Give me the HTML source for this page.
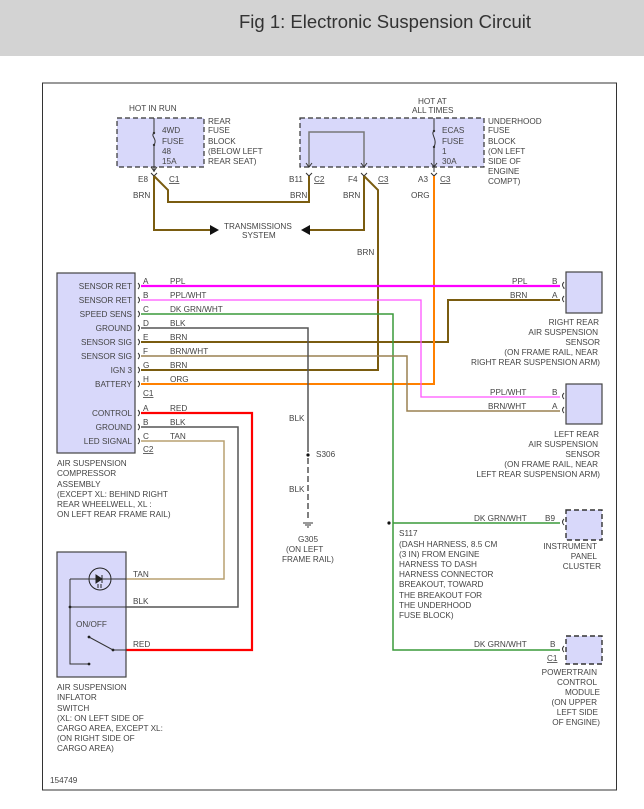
<!DOCTYPE html>
<html><head><meta charset="utf-8"><style>
html,body{margin:0;padding:0;background:#fff;width:644px;height:809px;overflow:hidden}
svg{display:block}
text{font-family:"Liberation Sans",sans-serif;font-size:8.2px;fill:#444}
.t{font-size:18.5px;fill:#333}
</style></head><body>
<svg width="644" height="809" viewBox="0 0 644 809" xmlns="http://www.w3.org/2000/svg">
<rect x="0" y="0" width="644" height="56" fill="#d3d3d3"/>
<text class="t" x="239" y="28">Fig 1: Electronic Suspension Circuit</text>
<!-- frame -->
<line x1="42" y1="83" x2="617" y2="83" stroke="#999" stroke-width="2"/>
<line x1="42" y1="790" x2="617" y2="790" stroke="#999" stroke-width="2"/>
<line x1="42.5" y1="83" x2="42.5" y2="790" stroke="#333" stroke-width="1"/>
<line x1="616.5" y1="83" x2="616.5" y2="790" stroke="#333" stroke-width="1"/>

<!-- rear fuse block -->
<rect x="117" y="118" width="87" height="49" fill="#d8d8fa" stroke="#333" stroke-dasharray="5,3" stroke-width="1.2"/>
<path d="M154 118V133 M154 145V172" stroke="#333" fill="none"/>
<path d="M154 133c-4 3 4 6 0 12" stroke="#333" fill="none"/>
<circle cx="154" cy="133" r="1.2" fill="#333"/><circle cx="154" cy="145" r="1.2" fill="#333"/>
<path d="M151 167l3 4 3-4" stroke="#333" fill="none"/>
<text x="129" y="111">HOT IN RUN</text>
<text x="162" y="133">4WD</text><text x="162" y="144">FUSE</text><text x="162" y="154">48</text><text x="162" y="164">15A</text>
<text x="208" y="124">REAR</text><text x="208" y="133">FUSE</text><text x="208" y="144">BLOCK</text><text x="208" y="154">(BELOW LEFT</text><text x="208" y="164">REAR SEAT)</text>
<text x="138" y="182">E8</text><text x="169" y="182" text-decoration="underline">C1</text>
<text x="133" y="198">BRN</text>

<!-- underhood fuse block -->
<rect x="300" y="118" width="184" height="49" fill="#d8d8fa" stroke="#333" stroke-dasharray="5,3" stroke-width="1.2"/>
<path d="M309 167V132H364V167" stroke="#777" stroke-width="1.5" fill="none"/>
<path d="M434 118V131 M434 147V172" stroke="#333" fill="none"/>
<path d="M434 131c-4 3 4 8 0 16" stroke="#333" fill="none"/>
<circle cx="434" cy="131" r="1.2" fill="#333"/><circle cx="434" cy="147" r="1.2" fill="#333"/>
<path d="M306 163l3 4 3-4 M361 163l3 4 3-4 M431 163l3 4 3-4" stroke="#333" fill="none"/>
<text x="418" y="104">HOT AT</text><text x="412" y="113">ALL TIMES</text>
<text x="442" y="133">ECAS</text><text x="442" y="144">FUSE</text><text x="442" y="154">1</text><text x="442" y="164">30A</text>
<text x="488" y="124">UNDERHOOD</text><text x="488" y="133">FUSE</text><text x="488" y="144">BLOCK</text><text x="488" y="154">(ON LEFT</text><text x="488" y="164">SIDE OF</text><text x="488" y="174">ENGINE</text><text x="488" y="184">COMPT)</text>
<text x="289" y="182">B11</text><text x="314" y="182" text-decoration="underline">C2</text>
<text x="348" y="182">F4</text><text x="378" y="182" text-decoration="underline">C3</text>
<text x="418" y="182">A3</text><text x="440" y="182" text-decoration="underline">C3</text>
<text x="290" y="198">BRN</text><text x="343" y="198">BRN</text><text x="411" y="198">ORG</text>
<text x="357" y="255">BRN</text>
<path d="M151 173l3 3 3-3 M306 173l3 3 3-3 M361 173l3 3 3-3 M431 173l3 3 3-3" stroke="#333" fill="none"/>

<!-- brown top wires -->
<g stroke="#7a5c10" stroke-width="2" fill="none">
<path d="M154 176V230H210"/>
<path d="M154 176L168 190V202H309V176"/>
<path d="M364 176V230H310"/>
<path d="M364 176L378 190V370H141"/>
<path d="M141 342H448V300H560"/>
</g>
<path d="M210 225l9 5-9 5z" fill="#111"/>
<path d="M310 225l-9 5 9 5z" fill="#111"/>
<text x="224" y="229">TRANSMISSIONS</text><text x="242" y="238">SYSTEM</text>

<!-- other wires -->
<path d="M434 176V384H141" stroke="#ff8000" stroke-width="2" fill="none"/>
<path d="M141 286H560" stroke="#f0f" stroke-width="2.2" fill="none"/>
<path d="M141 300H421V397H560" stroke="#f5f" stroke-width="1.3" fill="none"/>
<path d="M141 314H393V650H560 M393 523H560" stroke="#3a9a3a" stroke-width="1.5" fill="none"/>
<circle cx="389" cy="523" r="1.6" fill="#111"/>
<path d="M141 356H407V411H560" stroke="#9a8050" stroke-width="1.5" fill="none"/>
<path d="M141 328H308V452" stroke="#555" stroke-width="1.5" fill="none"/>
<path d="M308 458V520" stroke="#555" stroke-width="1.5" stroke-dasharray="6,3" fill="none"/>
<circle cx="308" cy="455" r="1.6" fill="#111"/>
<path d="M303 523h10 M305 525h6 M307 527h2" stroke="#333"/>
<text x="289" y="421">BLK</text><text x="316" y="457">S306</text><text x="289" y="492">BLK</text>
<text x="298" y="542">G305</text><text x="286" y="552">(ON LEFT</text><text x="282" y="562">FRAME RAIL)</text>
<path d="M141 413H252V650H126" stroke="#f00" stroke-width="2.2" fill="none"/>
<path d="M141 427H238V607H126" stroke="#555" stroke-width="1.5" fill="none"/>
<path d="M141 441H224V579H126" stroke="#b8a070" stroke-width="1.5" fill="none"/>

<!-- compressor -->
<rect x="57" y="273" width="78" height="180" fill="#d8d8fa" stroke="#444" stroke-width="1.2"/>
<g text-anchor="end">
<text x="132" y="289">SENSOR RET</text><text x="132" y="303">SENSOR RET</text><text x="132" y="317">SPEED SENS</text><text x="132" y="331">GROUND</text><text x="132" y="345">SENSOR SIG</text><text x="132" y="359">SENSOR SIG</text><text x="132" y="373">IGN 3</text><text x="132" y="387">BATTERY</text>
<text x="132" y="416">CONTROL</text><text x="132" y="430">GROUND</text><text x="132" y="444">LED SIGNAL</text>
</g>
<g stroke="#333" fill="none">
<path d="M138 283q3 3 0 6 M138 297q3 3 0 6 M138 311q3 3 0 6 M138 325q3 3 0 6 M138 339q3 3 0 6 M138 353q3 3 0 6 M138 367q3 3 0 6 M138 381q3 3 0 6 M138 410q3 3 0 6 M138 424q3 3 0 6 M138 438q3 3 0 6"/>
</g>
<text x="143" y="284">A</text><text x="143" y="298">B</text><text x="143" y="312">C</text><text x="143" y="326">D</text><text x="143" y="340">E</text><text x="143" y="354">F</text><text x="143" y="368">G</text><text x="143" y="382">H</text>
<text x="143" y="396" text-decoration="underline">C1</text>
<text x="143" y="411">A</text><text x="143" y="425">B</text><text x="143" y="439">C</text>
<text x="143" y="452" text-decoration="underline">C2</text>
<text x="170" y="284">PPL</text><text x="170" y="298">PPL/WHT</text><text x="170" y="312">DK GRN/WHT</text><text x="170" y="326">BLK</text><text x="170" y="340">BRN</text><text x="170" y="354">BRN/WHT</text><text x="170" y="368">BRN</text><text x="170" y="382">ORG</text>
<text x="170" y="411">RED</text><text x="170" y="425">BLK</text><text x="170" y="439">TAN</text>
<text x="57" y="466">AIR SUSPENSION</text><text x="57" y="476">COMPRESSOR</text><text x="57" y="487">ASSEMBLY</text><text x="57" y="497">(EXCEPT XL: BEHIND RIGHT</text><text x="57" y="507">REAR WHEELWELL, XL :</text><text x="57" y="517">ON LEFT REAR FRAME RAIL)</text>

<!-- switch -->
<rect x="57" y="552" width="69" height="125" fill="#d8d8fa" stroke="#444" stroke-width="1.2"/>
<circle cx="100" cy="579" r="11" fill="none" stroke="#222"/>
<path d="M70 579H126 M70 579V664H89 M70 607H126 M89 637L113 650H126" stroke="#333" fill="none"/>
<path d="M96 575l6 4-6 4z M102 575v8" fill="#222" stroke="#222"/>
<path d="M98 584v4 M101 584v4" stroke="#222"/>
<circle cx="70" cy="607" r="1.4" fill="#222"/><circle cx="89" cy="664" r="1.4" fill="#222"/><circle cx="89" cy="637" r="1.4" fill="#222"/><circle cx="113" cy="650" r="1.4" fill="#222"/>
<text x="76" y="627">ON/OFF</text>
<text x="133" y="577">TAN</text><text x="133" y="604">BLK</text><text x="133" y="647">RED</text>
<text x="57" y="690">AIR SUSPENSION</text><text x="57" y="700">INFLATOR</text><text x="57" y="711">SWITCH</text><text x="57" y="721">(XL: ON LEFT SIDE OF</text><text x="57" y="731">CARGO AREA, EXCEPT XL:</text><text x="57" y="741">(ON RIGHT SIDE OF</text><text x="57" y="751">CARGO AREA)</text>
<text x="50" y="783">154749</text>

<!-- right sensors -->
<rect x="566" y="272" width="36" height="41" fill="#d8d8fa" stroke="#444" stroke-width="1.2"/>
<rect x="566" y="384" width="36" height="40" fill="#d8d8fa" stroke="#444" stroke-width="1.2"/>
<rect x="566" y="510" width="36" height="30" fill="#d8d8fa" stroke="#333" stroke-dasharray="5,3" stroke-width="1.4"/>
<rect x="566" y="636" width="36" height="28" fill="#d8d8fa" stroke="#333" stroke-dasharray="5,3" stroke-width="1.4"/>
<g stroke="#333" fill="none">
<path d="M564 282q-3 3 0 6v1 M564 296q-3 3 0 6 M564 393q-3 3 0 6 M564 407q-3 3 0 6 M564 519q-3 3 0 6 M564 646q-3 3 0 6"/>
</g>
<text x="512" y="284">PPL</text><text x="552" y="284">B</text>
<text x="510" y="298">BRN</text><text x="552" y="298">A</text>
<text x="490" y="395">PPL/WHT</text><text x="552" y="395">B</text>
<text x="488" y="409">BRN/WHT</text><text x="552" y="409">A</text>
<text x="474" y="521">DK GRN/WHT</text><text x="545" y="521">B9</text>
<text x="474" y="647">DK GRN/WHT</text><text x="550" y="647">B</text>
<text x="547" y="661" text-decoration="underline">C1</text>
<g text-anchor="end">
<text x="599" y="325">RIGHT REAR</text><text x="598" y="335">AIR SUSPENSION</text><text x="600" y="345">SENSOR</text><text x="598" y="355">(ON FRAME RAIL, NEAR</text><text x="600" y="365">RIGHT REAR SUSPENSION ARM)</text>
<text x="599" y="437">LEFT REAR</text><text x="598" y="447">AIR SUSPENSION</text><text x="600" y="457">SENSOR</text><text x="598" y="467">(ON FRAME RAIL, NEAR</text><text x="600" y="477">LEFT REAR SUSPENSION ARM)</text>
<text x="597" y="549">INSTRUMENT</text><text x="597" y="559">PANEL</text><text x="601" y="569">CLUSTER</text>
<text x="597" y="675">POWERTRAIN</text><text x="597" y="685">CONTROL</text><text x="600" y="695">MODULE</text><text x="597" y="705">(ON UPPER</text><text x="598" y="715">LEFT SIDE</text><text x="600" y="725">OF ENGINE)</text>
</g>
<text x="399" y="536">S117</text>
<text x="399" y="547">(DASH HARNESS, 8.5 CM</text><text x="399" y="557">(3 IN) FROM ENGINE</text><text x="399" y="567">HARNESS TO DASH</text><text x="399" y="577">HARNESS CONNECTOR</text><text x="399" y="587">BREAKOUT, TOWARD</text><text x="399" y="598">THE BREAKOUT FOR</text><text x="399" y="608">THE UNDERHOOD</text><text x="399" y="618">FUSE BLOCK)</text>
</svg>
</body></html>
